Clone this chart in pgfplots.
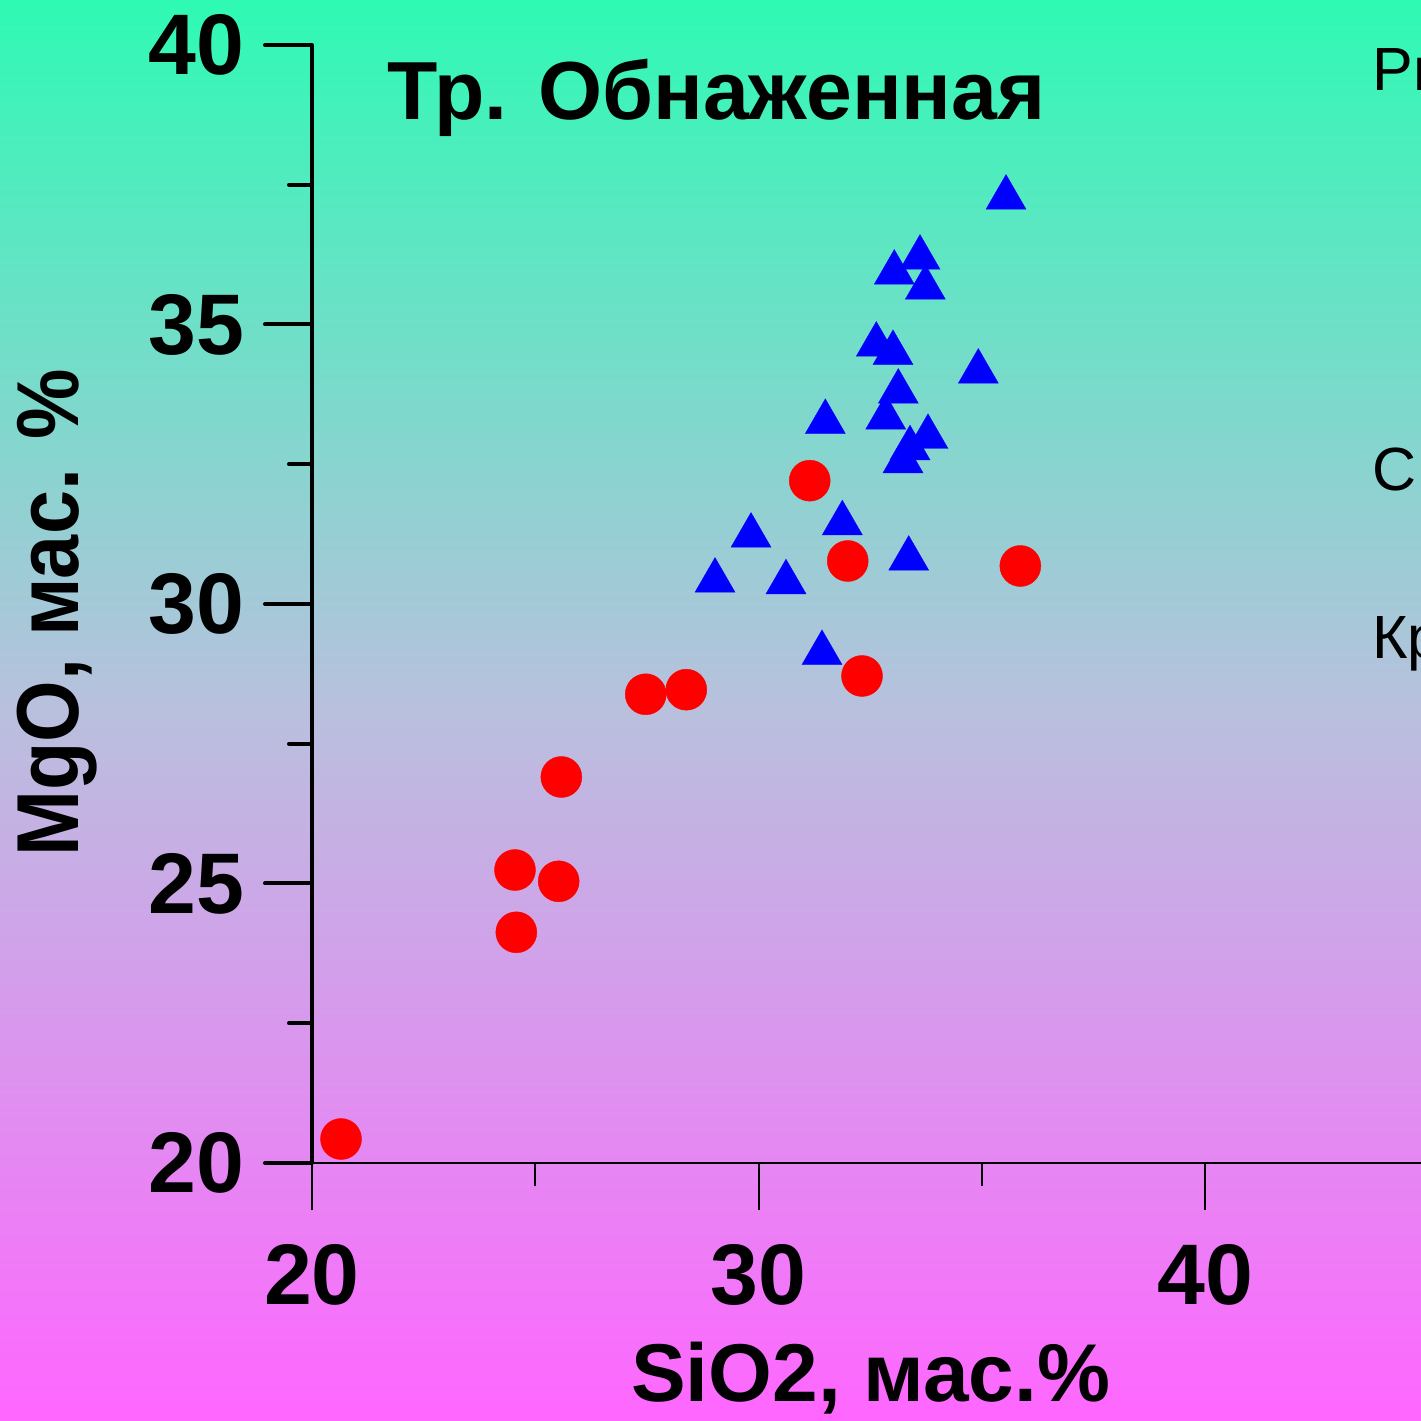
\documentclass[border=0pt]{standalone}
\usepackage{fontspec}
\setmainfont{Liberation Sans}
\newfontfamily\ylabfont[FakeStretch=0.9]{Liberation Sans}
\usepackage{pgfplots}
\pgfplotsset{compat=1.18}
\definecolor{bgtop}{RGB}{46,250,180}
\definecolor{bgmid}{RGB}{185,192,222}
\definecolor{bgbot}{RGB}{255,102,255}
\definecolor{tri}{RGB}{0,0,255}
\definecolor{dot}{RGB}{255,0,0}
\begin{document}
\begin{tikzpicture}
\useasboundingbox (0,0) rectangle (355.25pt,355.25pt);
\clip (0,0) rectangle (355.25pt,355.25pt);
\shade[top color=bgtop, bottom color=bgmid] (0,177.5pt) rectangle (355.25pt,355.25pt);
\shade[top color=bgmid, bottom color=bgbot] (0,0) rectangle (355.25pt,177.75pt);
\begin{axis}[
  at={(78pt,64.5pt)}, anchor=south west,
  x=11.1625pt, y=13.975pt,
  xmin=20, xmax=45, ymin=20, ymax=40,
  clip=false,
  axis lines=left, axis line style={-},
  x axis line style={line width=0.5pt},
  y axis line style={line width=1pt},
  xtick={20,30,40}, ytick={20,25,30,35,40},
  minor xtick={25,35}, minor ytick={22.5,27.5,32.5,37.5},
  tick align=outside, major tick length=11.75pt, minor tick length=5.75pt,
  xtick style={line width=0.5pt, black},
  ytick style={line width=1pt, black, line cap=round},
  /pgf/number format/assume math mode=true,
  ticklabel style={font=\fontsize{21.5}{21.5}\selectfont\bfseries, inner sep=0pt},
  xticklabel style={anchor=north, yshift=-8.5pt},
  yticklabel style={anchor=east, xshift=-5pt},
  xlabel={SiO2, мас.\%},
  ylabel={MgO, мас. \%},
  xlabel style={at={(axis description cs:0.5004,0)}, anchor=base, yshift=-59.5pt, inner sep=0pt, font=\fontsize{20.5}{20.5}\selectfont\bfseries},
  ylabel style={at={(axis description cs:-0.2096,0.492)}, anchor=base, inner sep=0pt, font=\ylabfont\fontsize{22}{22}\selectfont\bfseries},
  title={Тр. Обнаженная},
  title style={at={(axis description cs:0.0667,0.9311)}, anchor=base west, yshift=-5.5pt, inner sep=0pt, font=\fontsize{20.6}{20.6}\selectfont\bfseries},
]
\addplot[only marks, color=dot, mark=*, mark size=5.125pt, mark options={fill=dot, draw=dot, line width=0.1pt}] coordinates {
(20.650,20.429) (24.546,25.241) (24.576,24.127) (25.525,25.039) (25.584,26.905)
(27.474,28.385) (28.383,28.467) (31.147,32.206) (31.998,30.769) (32.318,28.712)
(35.864,30.680)
};
\addplot[only marks, color=tri, mark=triangle*, mark size=5.77pt, mark options={fill=tri, draw=tri, line width=0.1pt}] coordinates {
(35.543,37.268) (33.617,36.195) (33.041,35.927) (33.736,35.658) (32.638,34.639)
(33.012,34.490) (34.923,34.156) (33.131,33.798) (32.849,33.333) (31.496,33.256)
(33.796,32.988) (33.393,32.785) (33.236,32.553) (31.877,31.444) (29.832,31.222)
(33.364,30.810) (29.026,30.417) (30.616,30.388) (31.422,29.123)
};
\end{axis}
\node[anchor=base west, inner sep=0pt, font=\fontsize{15.25}{15.25}\selectfont] at (342.9pt,332.5pt) {Ри};
\node[anchor=base west, inner sep=0pt, font=\fontsize{15.25}{15.25}\selectfont] at (342.9pt,232.5pt) {С};
\node[anchor=base west, inner sep=0pt, font=\fontsize{15.25}{15.25}\selectfont] at (342.9pt,190.5pt) {Кр};
\end{tikzpicture}
\end{document}
